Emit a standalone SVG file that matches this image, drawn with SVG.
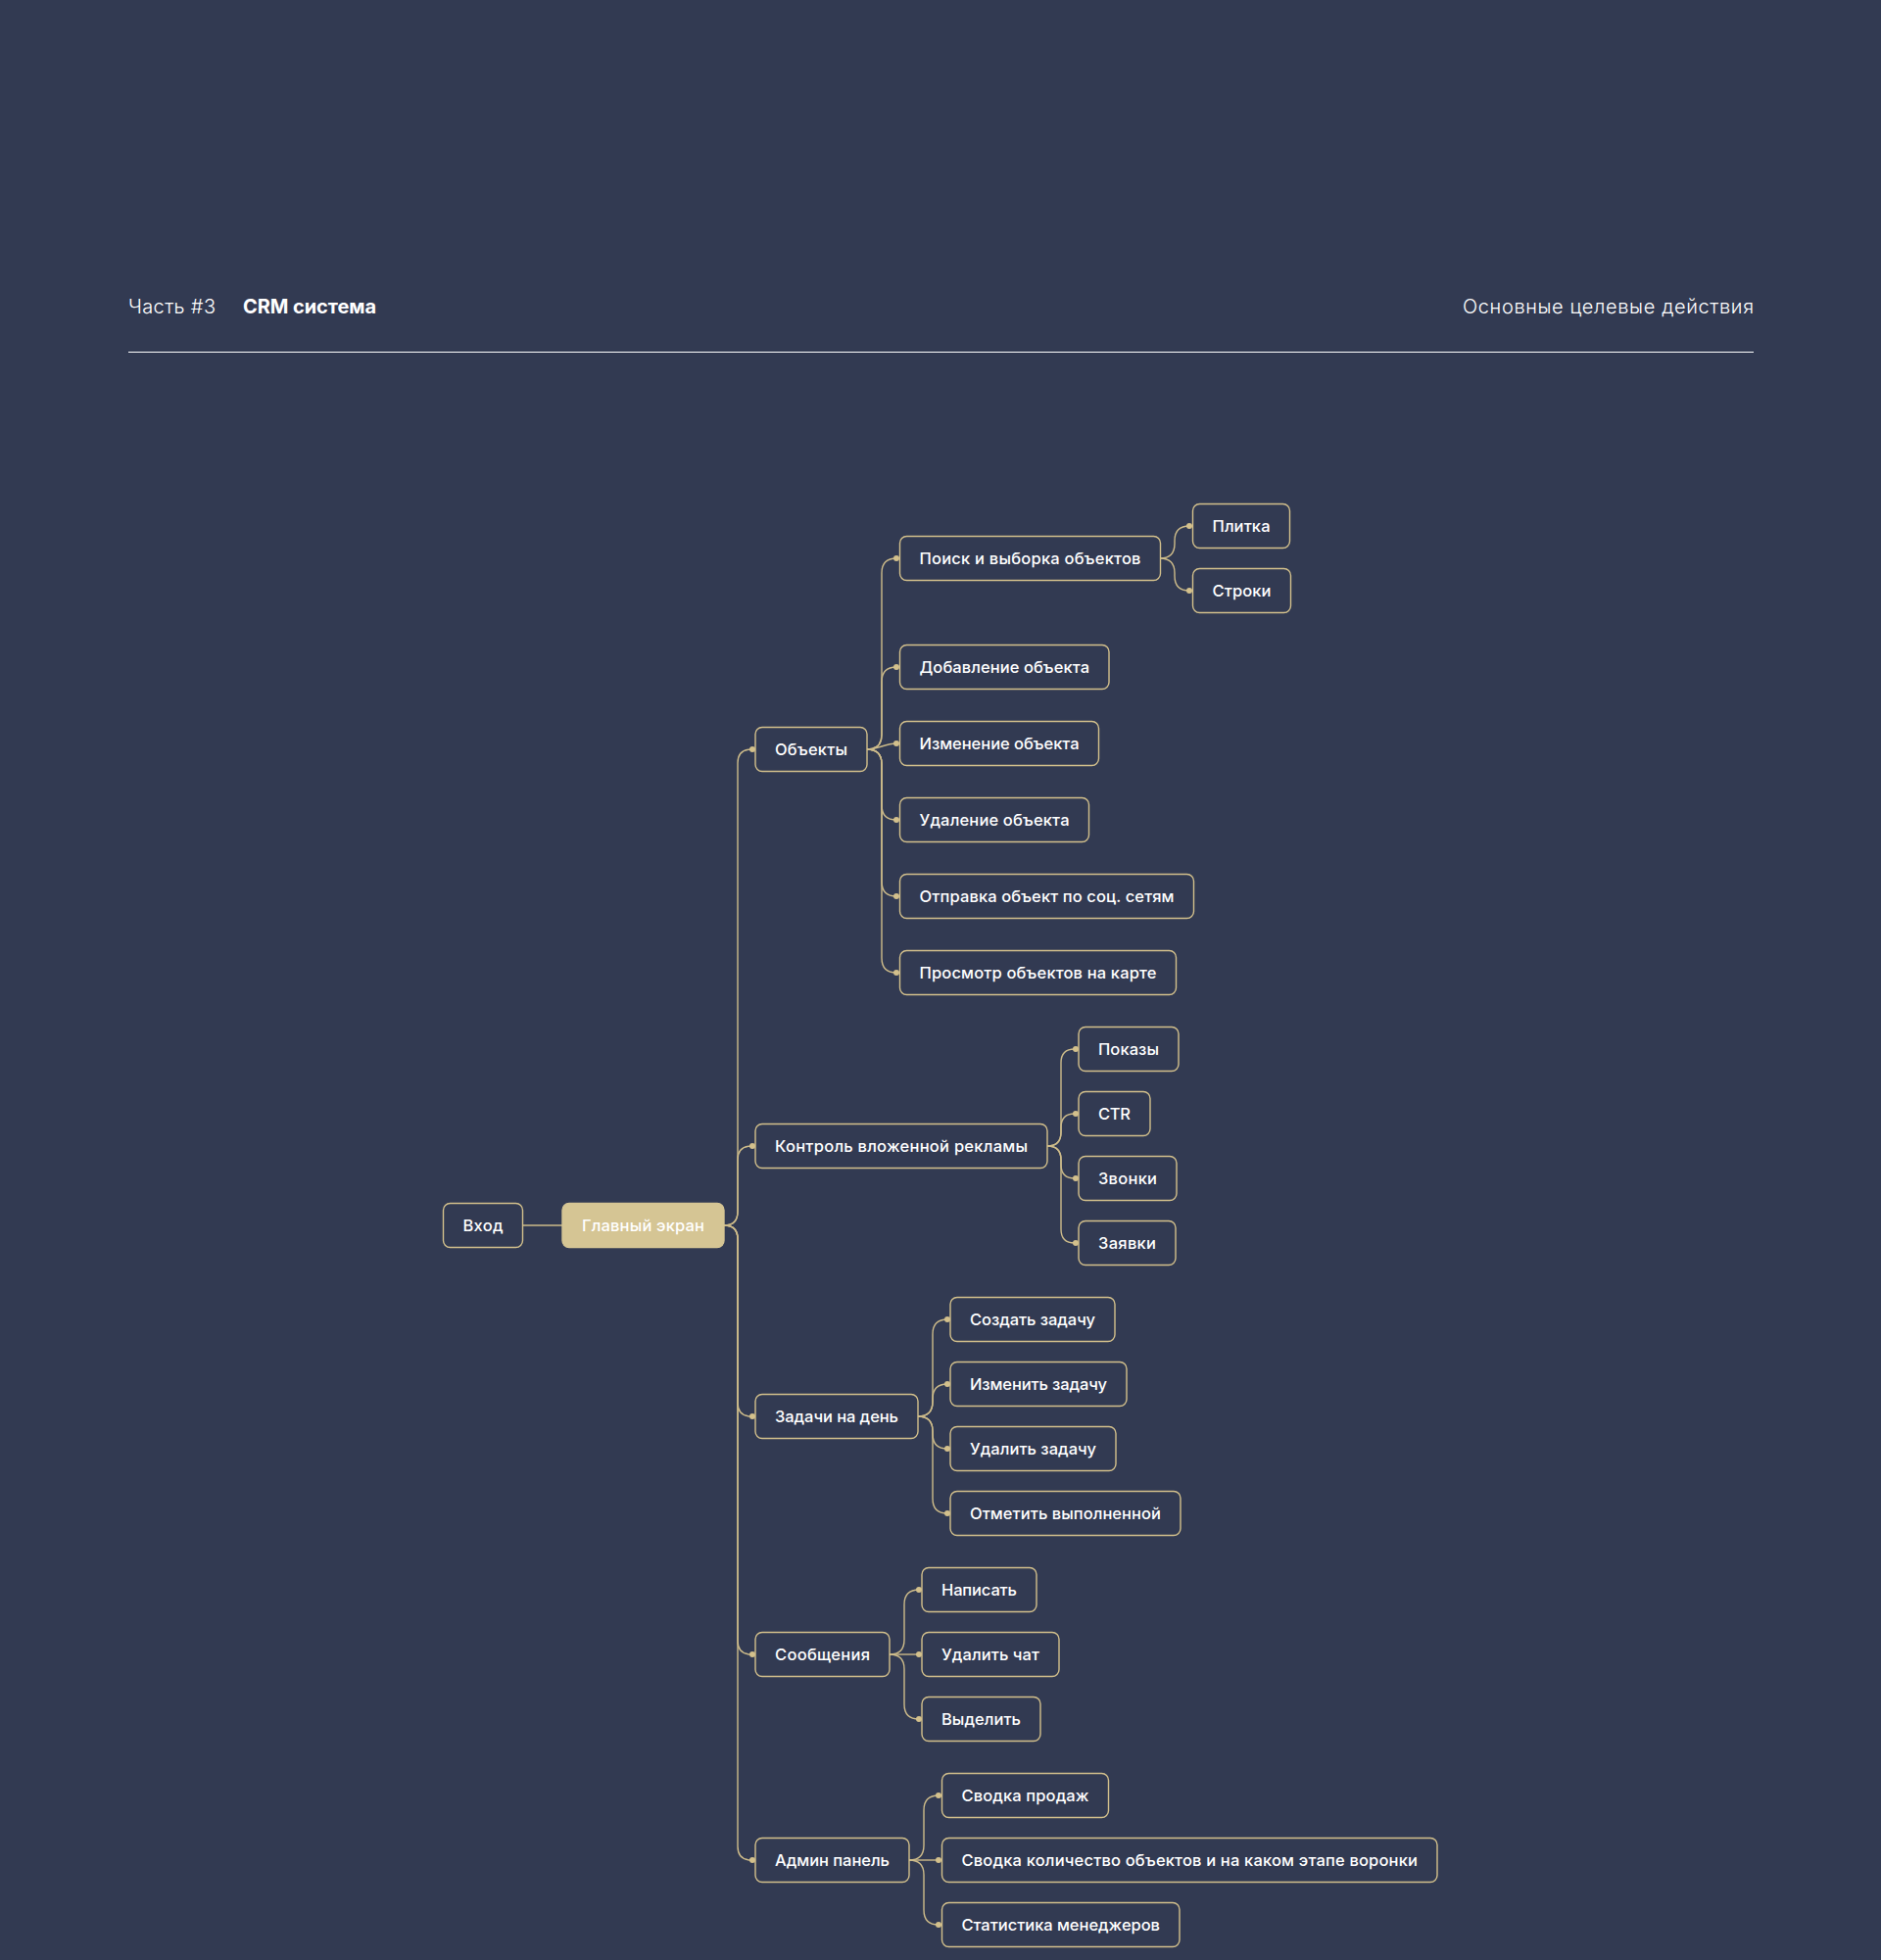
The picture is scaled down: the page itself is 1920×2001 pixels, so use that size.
<svg xmlns="http://www.w3.org/2000/svg" width="1920" height="2001" viewBox="0 0 1920 2001">
<style>
.bg{fill:#323a52}
.n rect{fill:#323a52;stroke:#d3c08c;stroke-width:1.4}
.main rect{fill:#d5c594;stroke:#d5c594}
.n text{font-family:Inter,"Open Sans","Liberation Sans",sans-serif;font-size:16.5px;font-weight:500;fill:#ffffff}
.h{font-family:Inter,"Open Sans","Liberation Sans",sans-serif;font-size:20px;fill:#ffffff}
#connectors path{fill:none;stroke:#cdbb8a;stroke-width:1.4}
#connectors circle{fill:#d3c08c}
</style>
<rect class="bg" x="0" y="0" width="1920" height="2001"/>
<g id="header">
<text class="h" x="131" y="320" font-weight="300" textLength="89">Часть #3</text>
<text class="h" x="248" y="320" font-weight="700" textLength="136">CRM система</text>
<text class="h" x="1493" y="320" font-weight="300" textLength="297">Основные целевые действия</text>
<line x1="131" y1="359.5" x2="1790" y2="359.5" stroke="#ffffff" stroke-width="1.2"/>
</g>
<g id="connectors">
<path d="M533.5 1251 L574 1251"/>
<path d="M739 1251 Q753 1251 753 1237 L753 779 Q753 765 767 765 L768 765"/>
<path d="M739 1251 Q753 1251 753 1237 L753 1184 Q753 1170 767 1170 L768 1170"/>
<path d="M739 1251 Q753 1251 753 1265 L753 1432 Q753 1446 767 1446 L768 1446"/>
<path d="M739 1251 Q753 1251 753 1265 L753 1675 Q753 1689 767 1689 L768 1689"/>
<path d="M739 1251 Q753 1251 753 1265 L753 1885 Q753 1899 767 1899 L768 1899"/>
<path d="M885 765 Q900 765 900 750 L900 585 Q900 570 915 570"/>
<path d="M885 765 Q900 765 900 750 L900 696 Q900 681 915 681"/>
<path d="M885 765 C897 765 903 759 915 759"/>
<path d="M885 765 Q900 765 900 780 L900 822 Q900 837 915 837"/>
<path d="M885 765 Q900 765 900 780 L900 900 Q900 915 915 915"/>
<path d="M885 765 Q900 765 900 780 L900 978 Q900 993 915 993"/>
<path d="M1184 570 Q1199 570 1199 555 L1199 552 Q1199 537 1214 537"/>
<path d="M1184 570 Q1199 570 1199 585 L1199 588 Q1199 603 1214 603"/>
<path d="M1069 1170 Q1083 1170 1083 1156 L1083 1085 Q1083 1071 1097 1071"/>
<path d="M1069 1170 Q1083 1170 1083 1156 L1083 1151 Q1083 1137 1097 1137"/>
<path d="M1069 1170 Q1083 1170 1083 1184 L1083 1189 Q1083 1203 1097 1203"/>
<path d="M1069 1170 Q1083 1170 1083 1184 L1083 1255 Q1083 1269 1097 1269"/>
<path d="M937 1446 Q952 1446 952 1431 L952 1362 Q952 1347 967 1347"/>
<path d="M937 1446 Q952 1446 952 1431 L952 1428 Q952 1413 967 1413"/>
<path d="M937 1446 Q952 1446 952 1461 L952 1464 Q952 1479 967 1479"/>
<path d="M937 1446 Q952 1446 952 1461 L952 1530 Q952 1545 967 1545"/>
<path d="M908 1689 Q923 1689 923 1674 L923 1638 Q923 1623 938 1623"/>
<path d="M908 1689 L938 1689"/>
<path d="M908 1689 Q923 1689 923 1704 L923 1740 Q923 1755 938 1755"/>
<path d="M928 1899 Q943 1899 943 1884 L943 1848 Q943 1833 958 1833"/>
<path d="M928 1899 L958 1899"/>
<path d="M928 1899 Q943 1899 943 1914 L943 1950 Q943 1965 958 1965"/>
<circle cx="768" cy="765" r="3"/>
<circle cx="768" cy="1170" r="3"/>
<circle cx="768" cy="1446" r="3"/>
<circle cx="768" cy="1689" r="3"/>
<circle cx="768" cy="1899" r="3"/>
<circle cx="915" cy="570" r="3"/>
<circle cx="915" cy="681" r="3"/>
<circle cx="915" cy="759" r="3"/>
<circle cx="915" cy="837" r="3"/>
<circle cx="915" cy="915" r="3"/>
<circle cx="915" cy="993" r="3"/>
<circle cx="1214" cy="537" r="3"/>
<circle cx="1214" cy="603" r="3"/>
<circle cx="1098" cy="1071" r="3"/>
<circle cx="1098" cy="1137" r="3"/>
<circle cx="1098" cy="1203" r="3"/>
<circle cx="1098" cy="1269" r="3"/>
<circle cx="967" cy="1347" r="3"/>
<circle cx="967" cy="1413" r="3"/>
<circle cx="967" cy="1479" r="3"/>
<circle cx="967" cy="1545" r="3"/>
<circle cx="938" cy="1623" r="3"/>
<circle cx="938" cy="1689" r="3"/>
<circle cx="938" cy="1755" r="3"/>
<circle cx="958" cy="1833" r="3"/>
<circle cx="958" cy="1899" r="3"/>
<circle cx="958" cy="1965" r="3"/>
</g>
<g id="n-vhod" class="n"><rect x="452.5" y="1228.5" width="81" height="45" rx="7"/><text x="472.5" y="1257" textLength="41">Вход</text></g>
<g id="n-main" class="n main"><rect x="574" y="1228.5" width="165" height="45" rx="7"/><text x="594" y="1257" textLength="125">Главный экран</text></g>
<g id="n-objects" class="n"><rect x="771" y="742.5" width="114" height="45" rx="7"/><text x="791" y="771" textLength="74">Объекты</text></g>
<g id="n-search" class="n"><rect x="918.5" y="547.5" width="266" height="45" rx="7"/><text x="938.5" y="576" textLength="226">Поиск и выборка объектов</text></g>
<g id="n-tile" class="n"><rect x="1217.5" y="514.5" width="99" height="45" rx="7"/><text x="1237.5" y="543" textLength="59">Плитка</text></g>
<g id="n-rows" class="n"><rect x="1217.5" y="580.5" width="100" height="45" rx="7"/><text x="1237.5" y="609" textLength="60">Строки</text></g>
<g id="n-add" class="n"><rect x="918.5" y="658.5" width="213.5" height="45" rx="7"/><text x="938.5" y="687" textLength="173.5">Добавление объекта</text></g>
<g id="n-edit" class="n"><rect x="918.5" y="736.5" width="203" height="45" rx="7"/><text x="938.5" y="765" textLength="163">Изменение объекта</text></g>
<g id="n-del" class="n"><rect x="918.5" y="814.5" width="193" height="45" rx="7"/><text x="938.5" y="843" textLength="153">Удаление объекта</text></g>
<g id="n-send" class="n"><rect x="918.5" y="892.5" width="300" height="45" rx="7"/><text x="938.5" y="921" textLength="260">Отправка объект по соц. сетям</text></g>
<g id="n-map" class="n"><rect x="918.5" y="970.5" width="282" height="45" rx="7"/><text x="938.5" y="999" textLength="242">Просмотр объектов на карте</text></g>
<g id="n-ads" class="n"><rect x="771" y="1147.5" width="298" height="45" rx="7"/><text x="791" y="1176" textLength="258">Контроль вложенной рекламы</text></g>
<g id="n-views" class="n"><rect x="1101" y="1048.5" width="102" height="45" rx="7"/><text x="1121" y="1077" textLength="62">Показы</text></g>
<g id="n-ctr" class="n"><rect x="1101" y="1114.5" width="73" height="45" rx="7"/><text x="1121" y="1143" textLength="33">CTR</text></g>
<g id="n-calls" class="n"><rect x="1101" y="1180.5" width="100" height="45" rx="7"/><text x="1121" y="1209" textLength="60">Звонки</text></g>
<g id="n-req" class="n"><rect x="1101" y="1246.5" width="99" height="45" rx="7"/><text x="1121" y="1275" textLength="59">Заявки</text></g>
<g id="n-tasks" class="n"><rect x="771" y="1423.5" width="166" height="45" rx="7"/><text x="791" y="1452" textLength="126">Задачи на день</text></g>
<g id="n-tcreate" class="n"><rect x="970" y="1324.5" width="168" height="45" rx="7"/><text x="990" y="1353" textLength="128">Создать задачу</text></g>
<g id="n-tedit" class="n"><rect x="970" y="1390.5" width="180" height="45" rx="7"/><text x="990" y="1419" textLength="140">Изменить задачу</text></g>
<g id="n-tdel" class="n"><rect x="970" y="1456.5" width="169" height="45" rx="7"/><text x="990" y="1485" textLength="129">Удалить задачу</text></g>
<g id="n-tdone" class="n"><rect x="970" y="1522.5" width="235" height="45" rx="7"/><text x="990" y="1551" textLength="195">Отметить выполненной</text></g>
<g id="n-msg" class="n"><rect x="771" y="1666.5" width="137" height="45" rx="7"/><text x="791" y="1695" textLength="97">Сообщения</text></g>
<g id="n-write" class="n"><rect x="941" y="1600.5" width="117" height="45" rx="7"/><text x="961" y="1629" textLength="77">Написать</text></g>
<g id="n-delchat" class="n"><rect x="941" y="1666.5" width="140" height="45" rx="7"/><text x="961" y="1695" textLength="100">Удалить чат</text></g>
<g id="n-select" class="n"><rect x="941" y="1732.5" width="121" height="45" rx="7"/><text x="961" y="1761" textLength="81">Выделить</text></g>
<g id="n-admin" class="n"><rect x="771" y="1876.5" width="157" height="45" rx="7"/><text x="791" y="1905" textLength="117">Админ панель</text></g>
<g id="n-sales" class="n"><rect x="961.5" y="1810.5" width="170" height="45" rx="7"/><text x="981.5" y="1839" textLength="130">Сводка продаж</text></g>
<g id="n-funnel" class="n"><rect x="961.5" y="1876.5" width="505.5" height="45" rx="7"/><text x="981.5" y="1905" textLength="465.5">Сводка количество объектов и на каком этапе воронки</text></g>
<g id="n-stats" class="n"><rect x="961.5" y="1942.5" width="242.5" height="45" rx="7"/><text x="981.5" y="1971" textLength="202.5">Статистика менеджеров</text></g>
</svg>
